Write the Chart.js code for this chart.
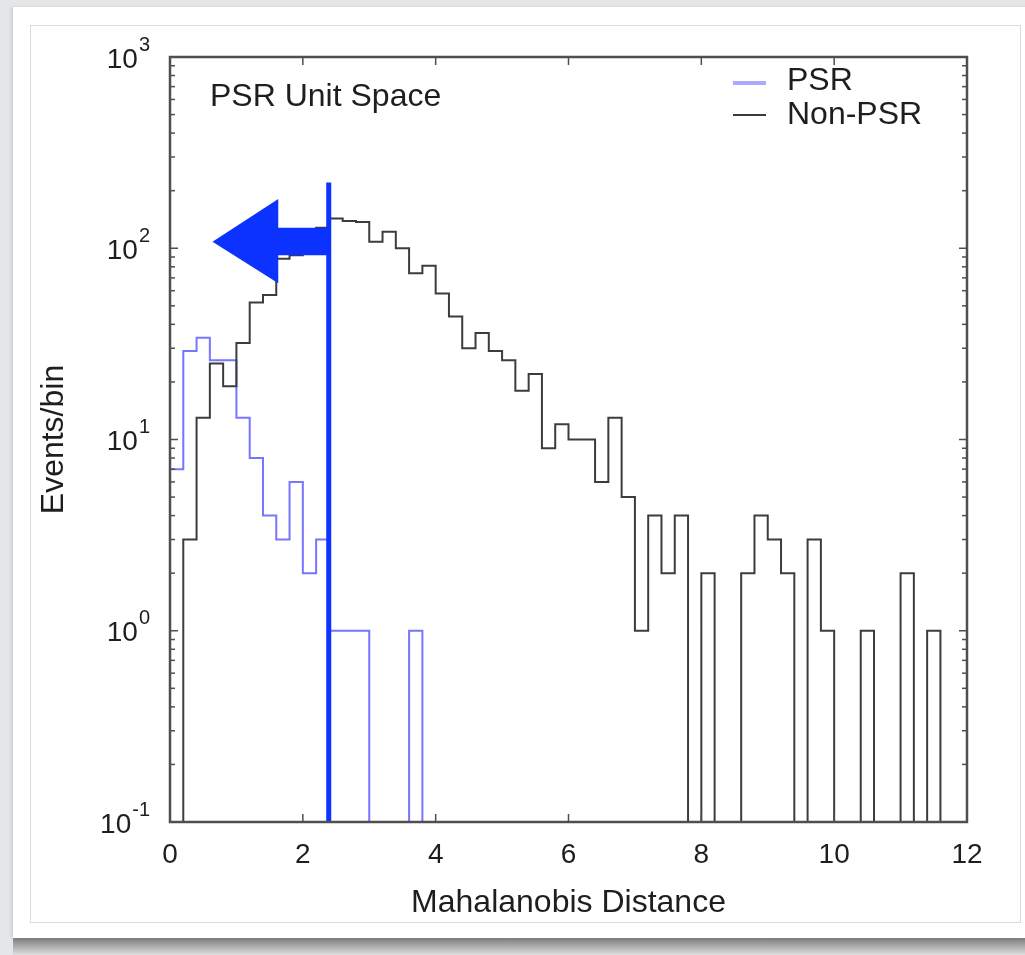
<!DOCTYPE html>
<html>
<head>
<meta charset="utf-8">
<title>PSR Unit Space</title>
<script src="https://cdn.jsdelivr.net/npm/chart.js@4.4.1/dist/chart.umd.min.js"></script>
<style>
  html, body { margin: 0; padding: 0; }
  body {
    width: 1025px; height: 955px; position: relative; overflow: hidden;
    background: #e4e6e8;
  }
  .card  { position: absolute; left: 13px; top: 7px; width: 1020px; height: 931px; background: #fff;
           box-shadow: -2px 0 3px rgba(0,0,0,0.10); }
  .inner { position: absolute; left: 30px; top: 25px; width: 991px; height: 898px;
           border: 1px solid #dadada; box-sizing: border-box; }
  .shade { position: absolute; left: 13px; top: 938px; width: 1012px; height: 17px;
           background: linear-gradient(to bottom, #7c7c7c 0%, #a9a9a9 45%, #dedede 100%); }
  canvas { position: absolute; left: 0; top: 0; }
</style>
</head>
<body>
<div class="card"></div>
<div class="inner"></div>
<div class="shade"></div>
<canvas id="chart" width="1025" height="955"></canvas>

<script>
// Data: 60 bins of width 0.2 in Mahalanobis distance, counts
const BIN_WIDTH = 0.2;
const binStarts = Array.from({ length: 60 }, function (_, i) { return +(i * BIN_WIDTH).toFixed(1); });

const psrCounts = [
  7, 29, 34, 26, 26, 13, 8, 4, 3, 6,
  2, 3, 1, 1, 1, 0, 0, 0, 1, 0,
  0, 0, 0, 0, 0, 0, 0, 0, 0, 0,
  0, 0, 0, 0, 0, 0, 0, 0, 0, 0,
  0, 0, 0, 0, 0, 0, 0, 0, 0, 0,
  0, 0, 0, 0, 0, 0, 0, 0, 0, 0
];

const nonPsrCounts = [
  0, 3, 13, 25, 19, 32, 52, 57, 88, 92,
  110, 128, 143, 139, 137, 108, 122, 100, 74, 81,
  58, 44, 30, 36, 29, 26, 18, 22, 9, 12,
  10, 10, 6, 13, 5, 1, 4, 2, 4, 0,
  2, 0, 0, 2, 4, 3, 2, 0, 3, 1,
  0, 0, 1, 0, 0, 2, 0, 1, 0, 0
];

const xTickValues = [0, 2, 4, 6, 8, 10, 12];
const yDecades    = [0.1, 1, 10, 100, 1000];
const yExponents  = ["-1", "0", "1", "2", "3"];

// cut annotation (data units)
const CUT_VALUE     = 2.39;
const CUT_TOP       = 221;
const ARROW_TIP_X   = 0.64;
const ARROW_TIP_Y   = 108;
const ARROW_HEAD_X  = 1.63;
const ARROW_HEAD_HI = 181;
const ARROW_HEAD_LO = 65.6;
const SHAFT_HI      = 128;
const SHAFT_LO      = 92;

const FLOOR = 0.01; // empty bins drop below the axis and get clipped
const FONT  = "'Liberation Sans', Arial, Helvetica, sans-serif";
const TEXT_COLOR = "#1e1e1e";
const PSR_COLOR  = "#7676ff";
const CUT_COLOR  = "#0b32ff";

function histogramPoints(counts) {
  const pts = [{ x: 0, y: FLOOR }];
  counts.forEach(function (c, i) {
    pts.push({ x: binStarts[i], y: c > 0 ? c : FLOOR });
  });
  const last = counts[counts.length - 1];
  const end  = binStarts[counts.length - 1] + BIN_WIDTH;
  pts.push({ x: end, y: last > 0 ? last : FLOOR });
  pts.push({ x: end, y: FLOOR });
  return pts;
}

function strokeLine(ctx, x1, y1, x2, y2) {
  ctx.beginPath();
  ctx.moveTo(x1, y1);
  ctx.lineTo(x2, y2);
  ctx.stroke();
}

// Frame, inward ticks, 10^n labels, legend, cut line and arrow
const decorPlugin = {
  id: "decor",
  afterDatasetsDraw(chart) {
    const ctx = chart.ctx;
    const a = chart.chartArea;
    const xs = chart.scales.x;
    const ys = chart.scales.y;
    ctx.save();

    // cut line + arrow
    const cutPx = xs.getPixelForValue(CUT_VALUE);
    ctx.strokeStyle = CUT_COLOR;
    ctx.lineWidth = 5;
    strokeLine(ctx, cutPx, ys.getPixelForValue(CUT_TOP), cutPx, a.bottom);

    const hx = xs.getPixelForValue(ARROW_HEAD_X);
    ctx.fillStyle = CUT_COLOR;
    ctx.beginPath();
    ctx.moveTo(xs.getPixelForValue(ARROW_TIP_X), ys.getPixelForValue(ARROW_TIP_Y));
    ctx.lineTo(hx, ys.getPixelForValue(ARROW_HEAD_HI));
    ctx.lineTo(hx, ys.getPixelForValue(SHAFT_HI));
    ctx.lineTo(cutPx, ys.getPixelForValue(SHAFT_HI));
    ctx.lineTo(cutPx, ys.getPixelForValue(SHAFT_LO));
    ctx.lineTo(hx, ys.getPixelForValue(SHAFT_LO));
    ctx.lineTo(hx, ys.getPixelForValue(ARROW_HEAD_LO));
    ctx.closePath();
    ctx.fill();

    // frame
    ctx.strokeStyle = "#4f4f4f";
    ctx.lineWidth = 2.5;
    ctx.strokeRect(a.left, a.top, a.right - a.left, a.bottom - a.top);

    // x ticks, top and bottom
    ctx.lineWidth = 1.5;
    xTickValues.forEach(function (v) {
      const px = xs.getPixelForValue(v);
      strokeLine(ctx, px, a.bottom, px, a.bottom - 8);
      strokeLine(ctx, px, a.top, px, a.top + 8);
    });

    // y ticks, left and right, with log minors
    yDecades.forEach(function (d) {
      for (let m = 1; m <= 9; m++) {
        const v = d * m;
        if (v > yDecades[yDecades.length - 1]) break;
        const py = ys.getPixelForValue(v);
        const len = m === 1 ? 8 : 5;
        strokeLine(ctx, a.left, py, a.left + len, py);
        strokeLine(ctx, a.right, py, a.right - len, py);
      }
    });

    // y labels as 10 with superscript exponent
    ctx.fillStyle = TEXT_COLOR;
    ctx.textBaseline = "middle";
    yDecades.forEach(function (d, i) {
      const py = ys.getPixelForValue(d);
      const rightEdge = a.left - 20;
      ctx.font = "20px " + FONT;
      ctx.textAlign = "right";
      const expW = ctx.measureText(yExponents[i]).width;
      ctx.fillText(yExponents[i], rightEdge, py - 12);
      ctx.font = "28px " + FONT;
      ctx.fillText("10", rightEdge - expW - 1, py + 3);
    });

    // corner label
    ctx.font = "32px " + FONT;
    ctx.textAlign = "left";
    ctx.fillText("PSR Unit Space", a.left + 40, a.top + 40);

    // legend
    const lx = a.right - 234;
    ctx.lineWidth = 4;
    ctx.strokeStyle = "#a9a9ff";
    strokeLine(ctx, lx, a.top + 26, lx + 33, a.top + 26);
    ctx.lineWidth = 2;
    ctx.strokeStyle = "#3a3a3a";
    strokeLine(ctx, lx, a.top + 58, lx + 33, a.top + 58);
    ctx.fillText("PSR", lx + 54, a.top + 24);
    ctx.fillText("Non-PSR", lx + 54, a.top + 58);

    ctx.restore();
  }
};

new Chart(document.getElementById("chart"), {
  type: "line",
  data: {
    datasets: [
      {
        label: "Non-PSR",
        data: histogramPoints(nonPsrCounts),
        borderColor: "#3c3c3c",
        borderWidth: 2,
        stepped: "before",
        pointRadius: 0,
        fill: false,
      },
      {
        label: "PSR",
        data: histogramPoints(psrCounts),
        borderColor: PSR_COLOR,
        borderWidth: 2,
        stepped: "before",
        pointRadius: 0,
        fill: false,
      },
    ],
  },
  options: {
    responsive: false,
    animation: false,
    layout: { padding: { left: 35, top: 57, right: 58, bottom: 33 } },
    plugins: {
      legend:  { display: false },
      tooltip: { enabled: false },
    },
    scales: {
      x: {
        type: "linear",
        min: 0,
        max: 12,
        grid:   { display: false, drawTicks: false },
        border: { display: false },
        ticks: {
          stepSize: 2,
          padding: 16,
          color: TEXT_COLOR,
          font: { family: FONT, size: 28 },
        },
        title: {
          display: true,
          text: "Mahalanobis Distance",
          color: TEXT_COLOR,
          font: { family: FONT, size: 32 },
          padding: { top: 0, bottom: 0 },
        },
        afterFit: function (s) { s.height = 100; },
      },
      y: {
        type: "logarithmic",
        min: 0.1,
        max: 1000,
        grid:   { display: false, drawTicks: false },
        border: { display: false },
        ticks:  { display: false },
        title: {
          display: true,
          text: "Events/bin",
          color: TEXT_COLOR,
          font: { family: FONT, size: 32 },
          padding: { top: 0, bottom: 0 },
        },
        afterFit: function (s) { s.width = 135; },
      },
    },
  },
  plugins: [decorPlugin],
});
</script>
</body>
</html>
